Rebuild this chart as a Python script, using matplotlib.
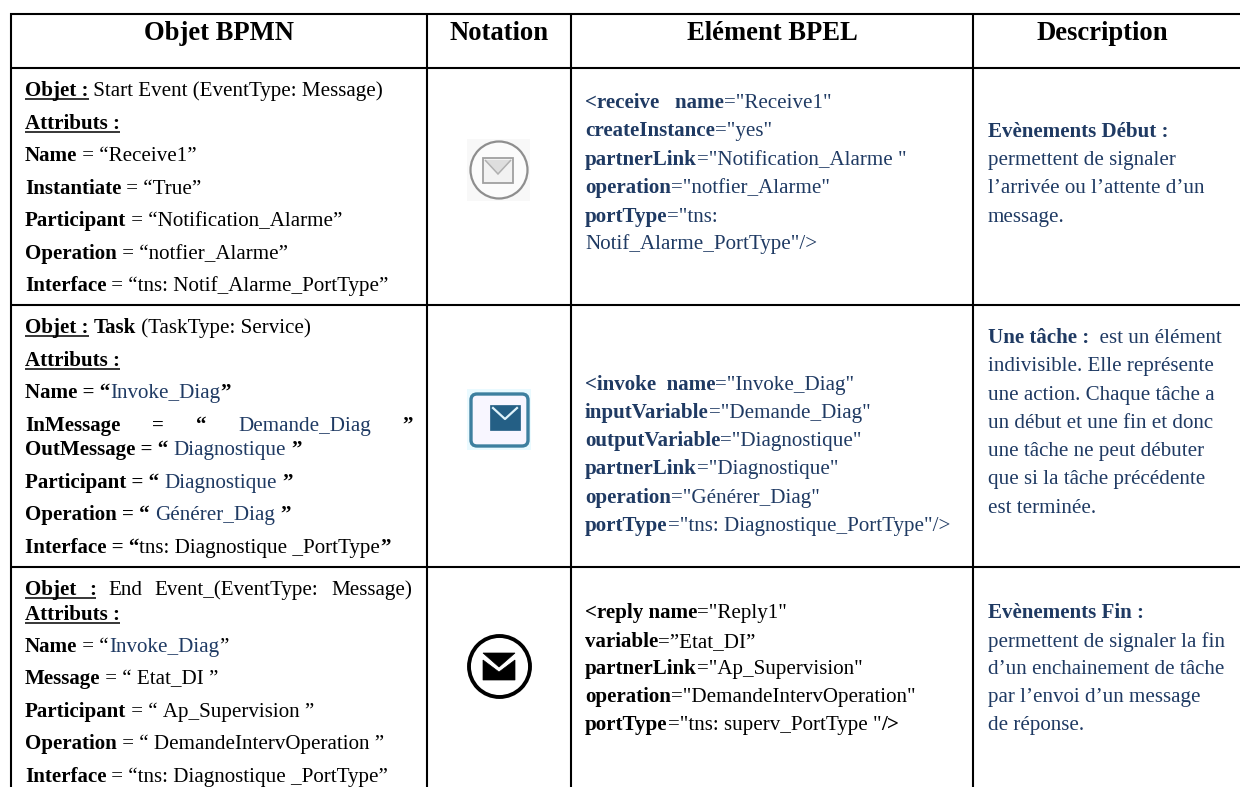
import re
import matplotlib
matplotlib.use('Agg')
import matplotlib.pyplot as plt
from matplotlib.patches import Circle, FancyBboxPatch, Polygon, Rectangle

# table text, [b] bold, [n] navy, [B] bold navy, [u] bold underlined
headers = ['Objet BPMN', 'Notation', 'Elément BPEL', 'Description']

bpmn_row1 = [
    '[u]Objet :[/] Start Event (EventType: Message)',
    '[u]Attributs :[/]',
    '[b]Name[/] = “Receive1”',
    '[b]Instantiate[/] = “True”',
    '[b]Participant[/] = “Notification_Alarme”',
    '[b]Operation[/] = “notfier_Alarme”',
    '[b]Interface[/] = “tns: Notif_Alarme_PortType”',
]
bpmn_row2 = [
    '[u]Objet :[/] [b]Task[/] (TaskType: Service)',
    '[u]Attributs :[/]',
    '[b]Name = “[/][n]Invoke_Diag[/][b]”[/]',
    '[b]InMessage = “[/] [n]Demande_Diag[/] [b]”[/]',
    '[b]OutMessage = “[/] [n]Diagnostique[/] [b]”[/]',
    '[b]Participant = “[/] [n]Diagnostique[/] [b]”[/]',
    '[b]Operation = “[/] [n]Générer_Diag[/] [b]”[/]',
    '[b]Interface = “[/]tns: Diagnostique _PortType[b]”[/]',
]
bpmn_row3 = [
    '[u]Objet :[/] End Event_(EventType: Message)',
    '[u]Attributs :[/]',
    '[b]Name[/] = “[n]Invoke_Diag[/]”',
    '[b]Message[/] = “ Etat_DI ”',
    '[b]Participant[/] = “ Ap_Supervision ”',
    '[b]Operation[/] = “ DemandeIntervOperation ”',
    '[b]Interface[/] = “tns: Diagnostique _PortType”',
]
bpel_row1 = [
    '[B]<receive   name[/][n]="Receive1"[/]',
    '[B]createInstance[/][n]="yes"[/]',
    '[B]partnerLink[/][n]="Notification_Alarme "[/]',
    '[B]operation[/][n]="notfier_Alarme"[/]',
    '[B]portType[/][n]="tns:[/]',
    '[n]Notif_Alarme_PortType"/>[/]',
]
bpel_row2 = [
    '[B]<invoke  name[/][n]="Invoke_Diag"[/]',
    '[B]inputVariable[/][n]="Demande_Diag"[/]',
    '[B]outputVariable[/][n]="Diagnostique"[/]',
    '[B]partnerLink[/][n]="Diagnostique"[/]',
    '[B]operation[/][n]="Générer_Diag"[/]',
    '[B]portType[/][n]="tns: Diagnostique_PortType"/>[/]',
]
bpel_row3 = [
    '[b]<reply name[/]="Reply1"',
    '[b]variable[/]=”Etat_DI”',
    '[b]partnerLink[/]="Ap_Supervision"',
    '[b]operation[/]="DemandeIntervOperation"',
    '[b]portType[/]="tns: superv_PortType "[b]/>[/]',
]
desc_row1 = [
    '[B]Evènements Début :[/]',
    '[n]permettent de signaler[/]',
    '[n]l’arrivée ou l’attente d’un[/]',
    '[n]message.[/]',
]
desc_row2 = [
    '[B]Une tâche :[/][n]  est un élément[/]',
    '[n]indivisible. Elle représente[/]',
    '[n]une action. Chaque tâche a[/]',
    '[n]un début et une fin et donc[/]',
    '[n]une tâche ne peut débuter[/]',
    '[n]que si la tâche précédente[/]',
    '[n]est terminée.[/]',
]
desc_row3 = [
    '[B]Evènements Fin :[/]',
    '[n]permettent de signaler la fin[/]',
    '[n]d’un enchainement de tâche[/]',
    '[n]par l’envoi d’un message[/]',
    '[n]de réponse.[/]',
]

# layout in pixels
col_edges = [11, 427, 571, 973]
row_edges = [14, 68, 305, 567]
bottom = 787
header_base = 40
header_centers = [219, 499, 772, 1102]
bpmn_base = [
    [96, 129, 161, 194, 226, 259, 291],
    [333, 366, 398, 431, 455, 488, 520, 553],
    [595, 620, 652, 684, 717, 749, 782],
]
bpel_base = [
    [108, 136, 165, 193, 222, 249],
    [390, 418, 446, 474, 503, 531],
    [618, 647, 674, 702, 730],
]
desc_base = [
    [137, 165, 193, 222],
    [343, 371, 400, 428, 456, 484, 513],
    [618, 647, 674, 702, 730],
]
bpmn_x, bpel_x, desc_x = 25, 585, 988
justify_right = {(1, 3): 413, (2, 0): 412}

NAVY = '#1f3a63'
FONT = 'Liberation Serif'
BODY = 15.1
HEAD = 19.2
STYLES = {
    '': dict(color='black'),
    'b': dict(color='black', fontweight='bold'),
    'u': dict(color='black', fontweight='bold'),
    'n': dict(color=NAVY),
    'B': dict(color=NAVY, fontweight='bold'),
}

fig = plt.figure(figsize=(12.4, 7.87), dpi=100)
ax = fig.add_axes([0, 0, 1, 1])
ax.set_xlim(0, 1240)
ax.set_ylim(787, 0)
ax.axis('off')
rend = fig.canvas.get_renderer()


def parse(line):
    runs = []
    for m in re.finditer(r'\[(b|u|n|B)\](.*?)\[/\]|([^\[]+)', line):
        if m.group(1):
            runs.append((m.group(2), m.group(1)))
        else:
            runs.append((m.group(3), ''))
    return runs


def text_width(s, key):
    # sentinels so that leading and trailing spaces count
    t = ax.text(0, 0, '|' + s + '|', family=FONT, fontsize=BODY, **STYLES[key])
    w = t.get_window_extent(rend).width
    t.set_text('||')
    w -= t.get_window_extent(rend).width
    t.remove()
    return w


def draw_line(line, x, y, right=None):
    runs = parse(line)
    gap = None
    if right is not None:
        # justified line, stretch the spaces
        words = sum(text_width(w, k) for s, k in runs for w in s.split())
        spaces = sum(s.count(' ') for s, k in runs)
        gap = (right - x - words) / spaces
    for s, key in runs:
        start = x
        if gap is None:
            ax.text(x, y, s.replace(' ', '\u00a0'), family=FONT, fontsize=BODY, va='baseline', **STYLES[key])
            x += text_width(s, key)
        else:
            for part in re.findall(r' |[^ ]+', s):
                if part == ' ':
                    x += gap
                else:
                    ax.text(x, y, part, family=FONT, fontsize=BODY, va='baseline', **STYLES[key])
                    x += text_width(part, key)
        if key == 'u':
            ax.plot([start, x], [y + 3, y + 3], color='black', lw=1.1, solid_capstyle='butt')


# grid, the right side of the table is open
for xe in col_edges:
    ax.plot([xe, xe], [row_edges[0] - 1, bottom], color='black', lw=1.5, solid_capstyle='butt')
for ye in row_edges:
    ax.plot([col_edges[0] - 1, 1240], [ye, ye], color='black', lw=1.5, solid_capstyle='butt')

# header
for h, xc in zip(headers, header_centers):
    ax.text(xc, header_base, h, family=FONT, fontsize=HEAD, fontweight='bold', ha='center', va='baseline')

# body
bpmn_rows = [bpmn_row1, bpmn_row2, bpmn_row3]
bpel_rows = [bpel_row1, bpel_row2, bpel_row3]
desc_rows = [desc_row1, desc_row2, desc_row3]
for r in range(3):
    for j, line in enumerate(bpmn_rows[r]):
        draw_line(line, bpmn_x, bpmn_base[r][j], justify_right.get((r, j)))
    for j, line in enumerate(bpel_rows[r]):
        draw_line(line, bpel_x, bpel_base[r][j])
    for j, line in enumerate(desc_rows[r]):
        draw_line(line, desc_x, desc_base[r][j])

# start event icon
ax.add_patch(Rectangle((467, 139), 63, 62, fc='#f8f8f8', ec='none'))
ax.add_patch(Circle((499, 170), 28.5, fc='#fbfbfb', ec='#8e8e8e', lw=1.6))
ax.add_patch(Rectangle((483, 158), 30, 25, fc='#f2f2f2', ec='#a0a0a0', lw=1.3))
ax.add_patch(Polygon([(485, 160), (498, 174), (511, 160)], closed=False, fc='#dedede', ec='#b0b0b0', lw=1.1))

# task icon
ax.add_patch(Rectangle((467, 389), 64, 61, fc='#eafaff', ec='none'))
ax.add_patch(FancyBboxPatch((471, 394), 57, 52, boxstyle='round,pad=0,rounding_size=6', fc='#f8f6ff',
                            ec='#3d7f9f', lw=2.4))
ax.add_patch(Rectangle((490, 405), 30, 25, fc='#245f85', ec='#245f85', lw=0.5))
ax.plot([493, 505, 517], [408, 419, 408], color='#dff3fb', lw=1.6)

# end event icon
ax.add_patch(Circle((499.5, 666.5), 30.5, fc='white', ec='black', lw=2.8))
ax.add_patch(Polygon([(483, 653), (515, 653), (499, 667)], fc='black', ec='black', lw=0.5))
ax.add_patch(Polygon([(483, 660), (499, 672), (515, 660), (515, 680), (483, 680)], fc='black', ec='black', lw=0.5))

plt.savefig('out.png', dpi=100)
